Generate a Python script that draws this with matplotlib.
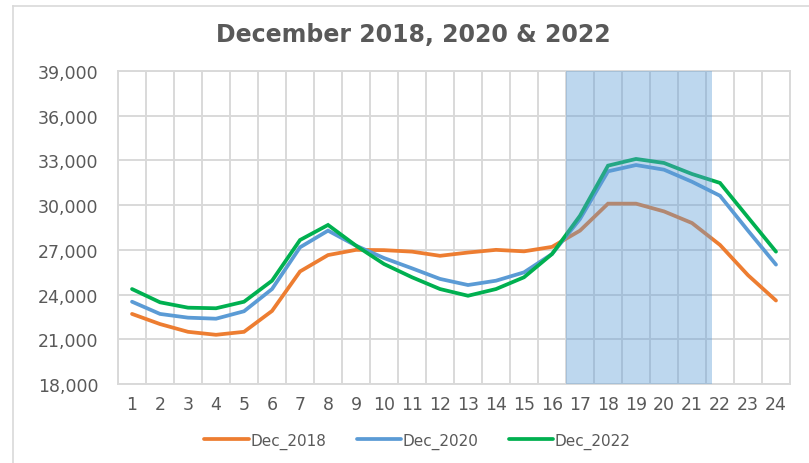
import matplotlib
matplotlib.use("Agg")
import matplotlib.pyplot as plt
from matplotlib.lines import Line2D
from matplotlib.ticker import FuncFormatter

hours = list(range(1, 25))
dec_2018 = [22700, 22020, 21500, 21300, 21500, 22900, 25550, 26650, 27000, 26980,
            26880, 26600, 26820, 27000, 26900, 27200, 28290, 30100, 30100, 29580,
            28800, 27330, 25300, 23600]
dec_2020 = [23520, 22700, 22450, 22380, 22880, 24370, 27170, 28290, 27280, 26450,
            25760, 25050, 24640, 24930, 25490, 26720, 29070, 32270, 32690, 32380,
            31570, 30630, 28290, 26010]
dec_2022 = [24370, 23480, 23120, 23080, 23520, 24930, 27660, 28670, 27280, 26050,
            25160, 24370, 23920, 24370, 25160, 26720, 29290, 32650, 33100, 32830,
            32090, 31490, 29180, 26880]
series = [("Dec_2018", dec_2018, "#ED7D31"),
          ("Dec_2020", dec_2020, "#5B9BD5"),
          ("Dec_2022", dec_2022, "#00B050")]
y_ticks = list(range(18000, 39001, 3000))
title = "December 2018, 2020 & 2022"

plt.rcParams['font.family'] = ['DejaVu Sans']
fig = plt.figure(figsize=(8.09, 4.64), dpi=100)
ax = fig.add_axes([0.1459, 0.1703, 0.8306, 0.6745])

grid_c = "#D9D9D9"
for name, vals, col in series:
    ax.plot(hours, vals, color=col, lw=2.7, label=name, solid_capstyle="round",
            solid_joinstyle="miter", zorder=3)

ax.axvspan(16.5, 21.72, color="#5B9BD5", alpha=0.4, lw=0, zorder=4)

ax.set_xlim(0.5, 24.5)
ax.set_ylim(18000, 39000)
ax.set_yticks(y_ticks)
ax.yaxis.set_major_formatter(FuncFormatter(lambda v, p: f"{int(v):,}"))
ax.set_xticks(hours)
ax.set_xticks([h + 0.5 for h in range(0, 25)], minor=True)
ax.grid(False)
ax.grid(True, which="minor", axis="x", color=grid_c, lw=1.4, zorder=1)
ax.grid(True, which="major", axis="y", color=grid_c, lw=1.4, zorder=1)
for s in ax.spines.values():
    s.set_color(grid_c)
    s.set_linewidth(1.4)
ax.tick_params(axis="both", which="both", length=0, colors="#595959", labelsize=12.5)
ax.tick_params(axis="y", pad=14)
ax.tick_params(axis="x", pad=8)

fig.text(0.511, 0.925, title, ha="center", va="center", fontsize=17,
         fontweight="bold", color="#595959")

leg = ax.legend(loc="center", bbox_to_anchor=(0.516, 0.048), bbox_transform=fig.transFigure,
                ncol=3, frameon=False, fontsize=11, handlelength=2.9,
                columnspacing=2.0, handletextpad=0.1)
for t in leg.get_texts():
    t.set_color("#595959")

fig.add_artist(Line2D([13/809, 13/809], [0, 1 - 7/464], color=grid_c, lw=1.2))
fig.add_artist(Line2D([13/809, 1], [1 - 7/464, 1 - 7/464], color=grid_c, lw=1.2))

fig.savefig("out.png", dpi=100)
